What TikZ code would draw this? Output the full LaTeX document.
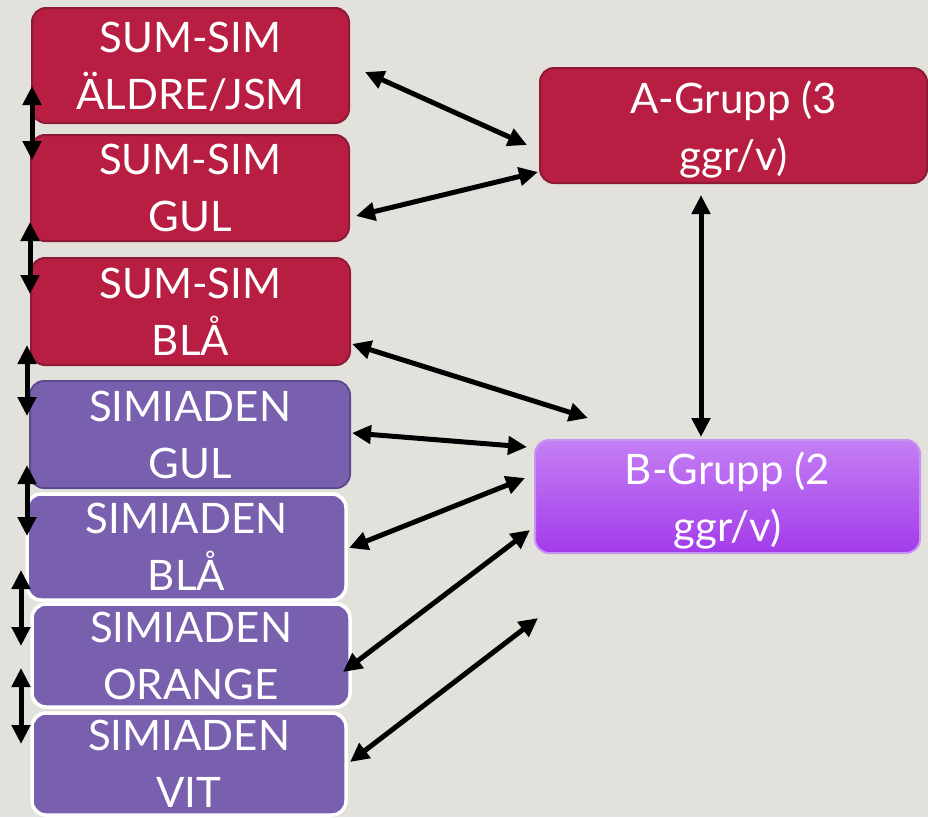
\documentclass[tikz,border=0pt]{standalone}
\usepackage{fontspec}
\setmainfont{Lato}
\usetikzlibrary{arrows.meta,calc}
\definecolor{bg}{HTML}{E3E1DC}
\definecolor{boxred}{HTML}{B71E42}
\definecolor{boxredline}{HTML}{8E1A35}
\definecolor{boxpurple}{HTML}{7860AF}
\definecolor{boxpurpleline}{HTML}{5D4A8C}
\definecolor{btop}{HTML}{C47FF4}
\definecolor{bbot}{HTML}{A33BEA}
\definecolor{bline}{HTML}{C993F0}
\begin{document}
\begin{tikzpicture}[x=1pt,y=-1pt,
  box/.style={rounded corners=14pt, text=white, align=center, inner sep=0pt, outer sep=0pt,
    font=\fontsize{42}{57}\selectfont, text depth=0pt},
  redbox/.style={box, fill=boxred, draw=boxredline, line width=2pt},
  purplebox/.style={box, fill=boxpurple, draw=boxpurpleline, line width=2pt},
  whitebox/.style={box, fill=boxpurple, draw=white, line width=3.5pt},
  bbox/.style={box, top color=btop, bottom color=bbot, draw=bline, line width=2pt},
  dbl/.style={draw=black, line width=5pt, {Triangle[length=19pt,width=18pt]}-{Triangle[length=19pt,width=18pt]}}
]
\fill[bg] (0,0) rectangle (928,817);
\useasboundingbox (0,0) rectangle (928,817);

\node[redbox, minimum width=317pt, minimum height=115pt] (b1) at (190.5,65.5) {SUM-SIM\\ÄLDRE/JSM};
\node[redbox, minimum width=318pt, minimum height=106pt] (b2) at (190,188) {SUM-SIM\\GUL};
\node[redbox, minimum width=319pt, minimum height=107pt] (b3) at (190.5,311.5) {SUM-SIM\\BLÅ};
\node[purplebox, minimum width=320pt, minimum height=107pt] (b4) at (190,434.5) {SIMIADEN\\GUL};
\node[whitebox, minimum width=319pt, minimum height=106pt] (b5) at (186.5,547) {SIMIADEN\\BLÅ};
\node[whitebox, minimum width=318pt, minimum height=103pt] (b6) at (191,655.5) {SIMIADEN\\ORANGE};
\node[whitebox, minimum width=314pt, minimum height=102pt] (b7) at (189,764) {SIMIADEN\\VIT};
\node[redbox, minimum width=387pt, minimum height=115pt] (ga) at (733.5,125.5) {A-Grupp (3\\ggr/v)};
\node[bbox, minimum width=385pt, minimum height=113pt] (gb) at (727.5,496.5) {B-Grupp (2\\ggr/v)};
\coordinate (free) at (538,618);

% vertical arrows on the left
\draw[dbl] (b1.west |- 0,86) -- (b1.west |- 0,160);
\draw[dbl] ($(b2.west |- 0,222)+(-1,0)$) -- ($(b3.west |- 0,294)+(-1,0)$);
\draw[dbl] ($(b3.west |- 0,345)+(-4,0)$) -- ($(b4.west |- 0,416)+(-3,0)$);
\draw[dbl] ($(b4.west |- 0,465)+(-3,0)$) -- (b5.west |- 0,536);
\draw[dbl] ($(b5.west |- 0,570)+(-6,0)$) -- ($(b6.west |- 0,646)+(-11,0)$);
\draw[dbl] ($(b6.west |- 0,668)+(-11,0)$) -- ($(b7.west |- 0,744)+(-11,0)$);

% arrows to the groups
\draw[dbl] ($(b1.east)+(16,6.5)$) -- ($(ga.west)+(-13,19.5)$);
\draw[dbl] ($(b2.east)+(7,28)$) -- ($(ga.west)+(-2,46.5)$);
\draw[dbl] ($(ga.south -| 701,0)+(0,12)$) -- ($(gb.north -| 701,0)+(0,-3)$);
\draw[dbl] ($(b3.east)+(2,32.5)$) -- ($(gb.west)+(53,-78.5)$);
\draw[dbl] ($(b4.east)+(2,-1.5)$) -- ($(gb.west)+(-8,-49.5)$);
\draw[dbl] ($(b5.east)+(3,1)$) -- ($(gb.west)+(-10,-18.5)$);
\draw[dbl] ($(b6.east)+(-7,16.5)$) -- ($(gb.west)+(-5,33.5)$);
\draw[dbl] ($(b7.east)+(4,-2)$) -- (free);
\end{tikzpicture}
\end{document}
